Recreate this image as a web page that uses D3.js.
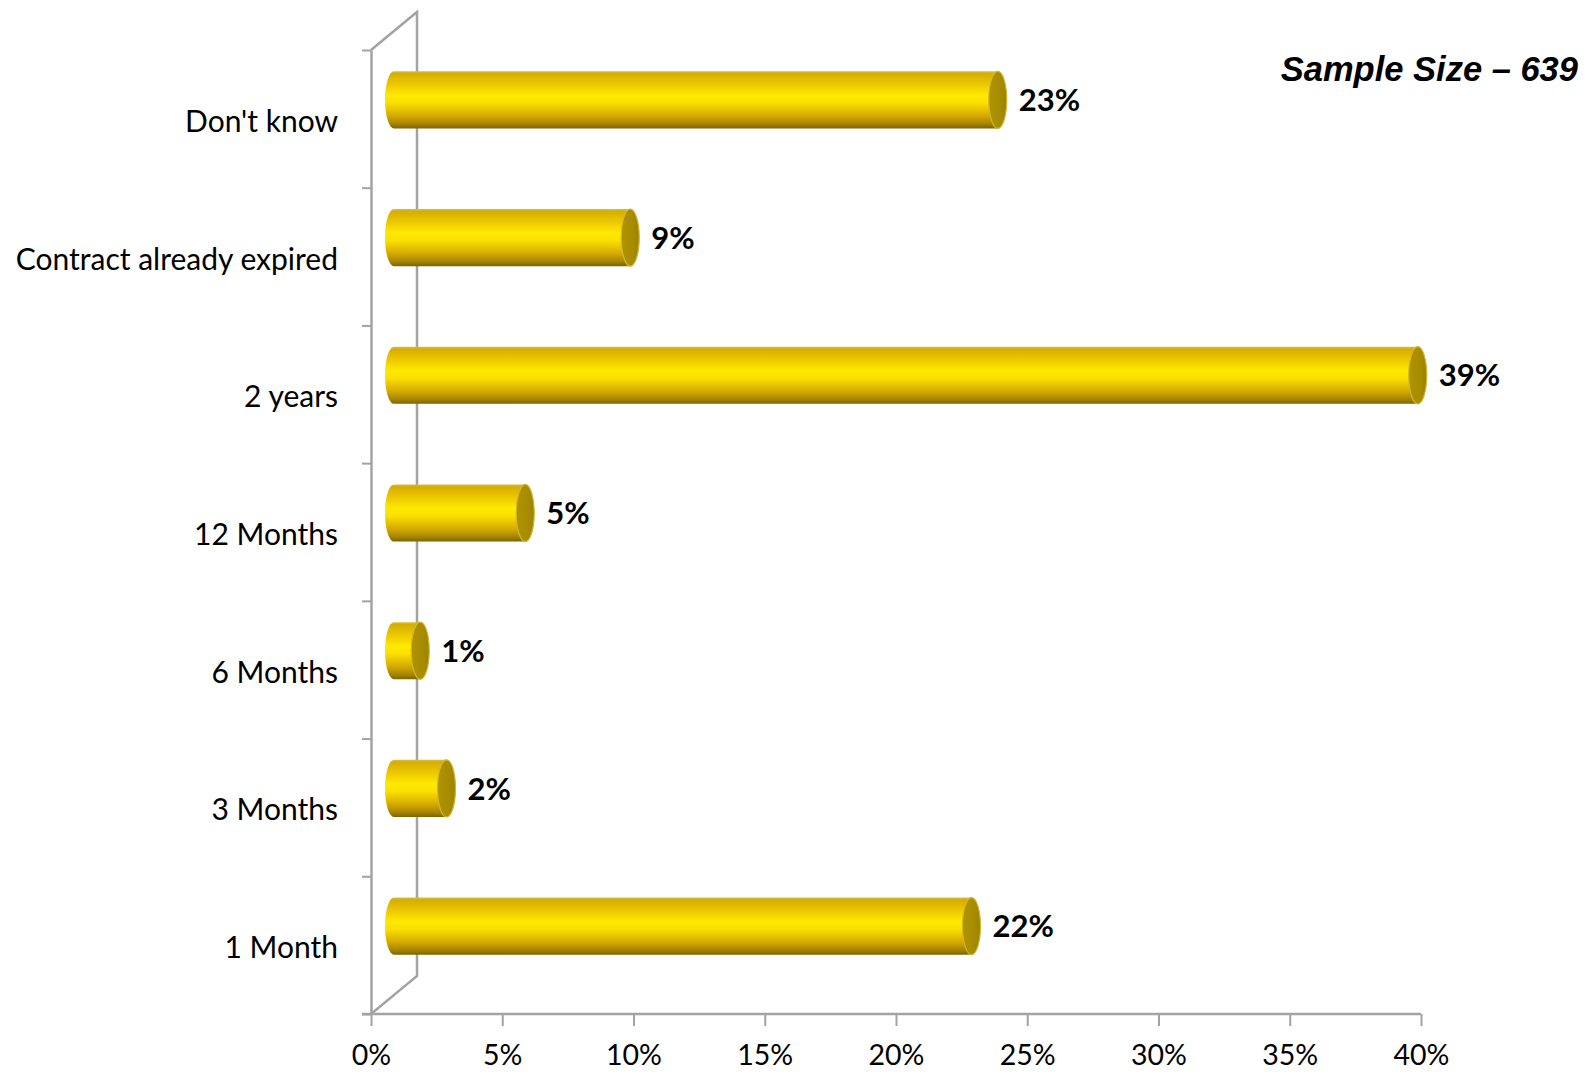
<!DOCTYPE html>
<html>
<head>
<meta charset="utf-8">
<script src="https://cdn.jsdelivr.net/npm/d3@7"></script>
<style>
  html, body { margin: 0; padding: 0; background: #fff; }
  svg { display: block; }
</style>
</head>
<body>
<svg id="chart" width="1594" height="1074"></svg>
<script>
// Contract time remaining, share of respondents (%)
const categories = ["Don't know", "Contract already expired", "2 years", "12 Months", "6 Months", "3 Months", "1 Month"];
const values = [23, 9, 39, 5, 1, 2, 22];
const xTicks = [0, 5, 10, 15, 20, 25, 30, 35, 40];
const sampleNote = "Sample Size \u2013 639";

const svg = d3.select("#chart");

// Plot frame (front plane) and 3D depth of the back wall
const plotLeft = 371, plotRight = 1421, plotTop = 50, plotBottom = 1014;
const depthX = 46, depthY = -38;

const x = d3.scaleLinear().domain([0, 40]).range([plotLeft, plotRight]);
const y = d3.scaleBand().domain(categories).range([plotTop, plotBottom]).paddingInner(0.585).paddingOuter(0.2925);
const band = d3.scaleLinear().domain([0, categories.length]).range([plotTop, plotBottom]);

const axisColor = "#a3a3a3";
const labelFont = "Lato, 'Open Sans', sans-serif";

// Gradients for cylinder bodies
const defs = svg.append("defs");
const body = defs.append("linearGradient").attr("id", "cylBody").attr("x1", 0).attr("y1", 0).attr("x2", 0).attr("y2", 1);
[[0, "#d9bd4a"], [0.04, "#d6ad00"], [0.2, "#e9c400"], [0.42, "#ffe900"], [0.55, "#fbe000"], [0.78, "#d4aa00"], [0.92, "#a68400"], [1, "#7c6400"]]
  .forEach(([o, c]) => body.append("stop").attr("offset", o).attr("stop-color", c));
const cap = defs.append("linearGradient").attr("id", "cylCap").attr("x1", 0).attr("y1", 0).attr("x2", 1).attr("y2", 0);
[[0, "#b09300"], [0.6, "#a88c00"], [1, "#9c8200"]]
  .forEach(([o, c]) => cap.append("stop").attr("offset", o).attr("stop-color", c));

// Back wall and floor edges
const wall = svg.append("g").attr("fill", "none").attr("stroke", axisColor).attr("stroke-width", 2.5);
wall.append("path").attr("d", d3.line()([
  [plotLeft, plotTop], [plotLeft + depthX, plotTop + depthY],
  [plotLeft + depthX, plotBottom + depthY], [plotLeft, plotBottom]
]));

// Front vertical axis with ticks at category boundaries
const yAxis = svg.append("g").attr("transform", `translate(${plotLeft},0)`)
  .call(d3.axisLeft(band).tickValues(d3.range(categories.length + 1)).tickSize(9).tickSizeOuter(0).tickFormat(""));
yAxis.select(".domain").attr("stroke", axisColor).attr("stroke-width", 2.5);
yAxis.selectAll(".tick line").attr("stroke", axisColor).attr("stroke-width", 2);

// Horizontal value axis
const xAxis = svg.append("g").attr("transform", `translate(0,${plotBottom})`)
  .call(d3.axisBottom(x).tickValues(xTicks).tickSize(12).tickSizeOuter(0).tickPadding(19).tickFormat(d => d + "%"));
xAxis.select(".domain").attr("stroke", axisColor).attr("stroke-width", 2.5).attr("d", `M${plotLeft - 9},0H${plotRight}`);
xAxis.selectAll(".tick line").attr("stroke", axisColor).attr("stroke-width", 2);
xAxis.selectAll(".tick text").attr("fill", "#000").style("font-family", labelFont).style("font-size", "28.5px");

// Category labels
svg.append("g").selectAll("text").data(categories).join("text")
  .attr("x", plotLeft - 33)
  .attr("y", d => y(d) + y.bandwidth() / 2 + 13)
  .attr("text-anchor", "end")
  .style("font-family", labelFont).style("font-size", "30px").attr("fill", "#000")
  .text(d => d);

// Cylinders, placed half way into the depth
const bx = depthX / 2, by = depthY / 2;
const h = y.bandwidth();
const rx = 9, ry = h / 2;
const bars = svg.append("g").selectAll("g").data(categories.map((c, i) => ({ c, v: values[i] }))).join("g")
  .attr("transform", d => `translate(0,${y(d.c) + by})`);

bars.append("path")
  .attr("fill", "url(#cylBody)")
  .attr("d", d => {
    const x0 = x(0) + bx, x1 = x(d.v) + bx;
    return `M${x1},0 L${x0},0 A${rx},${ry} 0 0 0 ${x0},${h} L${x1},${h} Z`;
  });
bars.append("ellipse")
  .attr("cx", d => x(d.v) + bx).attr("cy", ry)
  .attr("rx", rx).attr("ry", ry)
  .attr("fill", "url(#cylCap)")
  .attr("stroke", "#d2b630").attr("stroke-width", 1.2);

// Value labels
bars.append("text")
  .attr("x", d => x(d.v) + bx + rx + 12)
  .attr("y", ry)
  .attr("dy", "0.36em")
  .style("font-family", labelFont).style("font-size", "31px").style("font-weight", 700)
  .attr("fill", "#000")
  .text(d => d.v + "%");

// Sample size note
svg.append("text")
  .attr("x", 1578).attr("y", 81)
  .attr("text-anchor", "end")
  .style("font-family", "'Liberation Sans', Arial, sans-serif")
  .style("font-size", "34.5px").style("font-weight", 700).style("font-style", "italic")
  .attr("fill", "#000")
  .text(sampleNote);
</script>
</body>
</html>
